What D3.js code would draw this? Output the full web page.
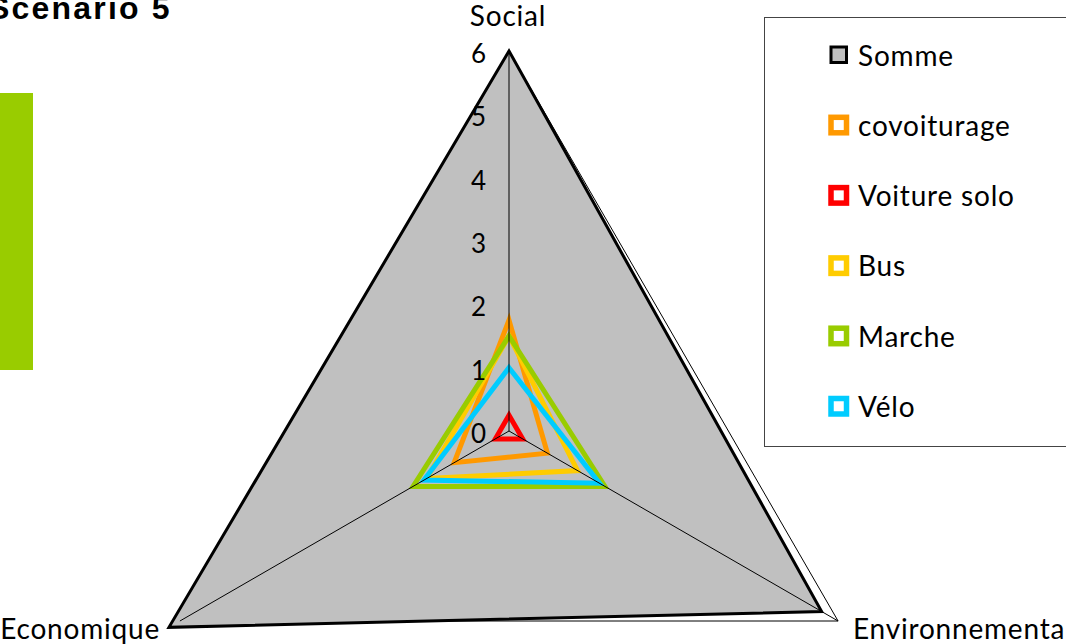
<!DOCTYPE html>
<html>
<head>
<meta charset="utf-8">
<script src="https://cdn.jsdelivr.net/npm/d3@7"></script>
<style>
  html, body { margin: 0; padding: 0; background: #fff; overflow: hidden; }
  svg { display: block; }
</style>
</head>
<body>
<svg id="chart" width="1066" height="644"></svg>
<script>
// Radar axes, clockwise from the top
const axisNames = ["Social", "Environnemental", "Economique"];
const tickValues = [0, 1, 2, 3, 4, 5, 6];

// Scores per axis: [Social, Environnemental, Economique]
const somme       = [6.0, 5.7, 6.2];
const covoiturage = [1.75, 0.7, 1.0];
const voitureSolo = [0.25, 0.25, 0.25];
const bus         = [1.5, 1.25, 1.5];
const marche      = [1.5, 1.75, 1.75];
const velo        = [1.0, 1.65, 1.55];

const seriesNames  = ["Somme", "covoiturage", "Voiture solo", "Bus", "Marche", "Vélo"];
const seriesValues = [somme, covoiturage, voitureSolo, bus, marche, velo];
const seriesColors = ["#000000", "#ff9900", "#ff0000", "#ffcc00", "#99cc00", "#00ccff"];

const svg = d3.select("#chart");
const cx = 509, cy = 431;
const FONT = "Lato, 'Open Sans', sans-serif";

const r = d3.scaleLinear().domain([0, 6]).range([0, 380]);
const angle = d3.scaleLinear().domain([0, axisNames.length]).range([0, 2 * Math.PI]);

const pt = (v, i) => [cx + r(v) * Math.sin(angle(i)), cy - r(v) * Math.cos(angle(i))];
const ring = d3.lineRadial()
  .angle((d, i) => angle(i))
  .radius(d => r(d))
  .curve(d3.curveLinearClosed);

const plot = svg.append("g").attr("transform", `translate(${cx},${cy})`);

// Concentric grid triangles (sit underneath the filled total)
plot.append("g").selectAll("path")
  .data(tickValues.filter(t => t > 0))
  .join("path")
  .attr("d", t => ring(axisNames.map(() => t)))
  .attr("fill", "none")
  .attr("stroke", "#000")
  .attr("stroke-width", 1);

// Series polygons: total filled grey, transport modes as outlines
plot.append("g").selectAll("path")
  .data(seriesValues)
  .join("path")
  .attr("d", d => ring(d))
  .attr("fill", (d, i) => i === 0 ? "#c0c0c0" : "none")
  .attr("stroke", (d, i) => seriesColors[i])
  .attr("stroke-width", (d, i) => i === 0 ? 3 : 5)
  .attr("stroke-linejoin", "miter")
  .attr("stroke-miterlimit", 10);

// Spokes
svg.append("g").selectAll("line")
  .data(axisNames)
  .join("line")
  .attr("x1", cx).attr("y1", cy)
  .attr("x2", (d, i) => pt(6, i)[0])
  .attr("y2", (d, i) => pt(6, i)[1])
  .attr("stroke", "#000")
  .attr("stroke-width", 1);

// Radial tick labels along the Social spoke
svg.append("g").selectAll("text")
  .data(tickValues)
  .join("text")
  .attr("x", cx - 23)
  .attr("y", d => pt(d, 0)[1] + 12)
  .attr("text-anchor", "end")
  .attr("font-family", FONT)
  .attr("font-size", 26)
  .attr("fill", "#000")
  .text(d => d);

// Axis names
const labelPos = [
  { x: cx - 1, y: 26, anchor: "middle" },
  { x: 853, y: 639, anchor: "start" },
  { x: 160, y: 639, anchor: "end" }
];
svg.append("g").selectAll("text")
  .data(axisNames)
  .join("text")
  .attr("x", (d, i) => labelPos[i].x)
  .attr("y", (d, i) => labelPos[i].y)
  .attr("text-anchor", (d, i) => labelPos[i].anchor)
  .attr("font-family", FONT)
  .attr("font-size", 28)
  .attr("letter-spacing", 0.8)
  .attr("fill", "#000")
  .text(d => d);

// Legend
const legend = svg.append("g");
legend.append("rect")
  .attr("x", 764.5).attr("y", 17.5)
  .attr("width", 400).attr("height", 429)
  .attr("fill", "#fff")
  .attr("stroke", "#444")
  .attr("stroke-width", 1);

const rowY = d3.scaleLinear().domain([0, 1]).range([54.5, 124.8]);
const items = legend.selectAll("g.item")
  .data(seriesNames)
  .join("g")
  .attr("class", "item")
  .attr("transform", (d, i) => `translate(0,${rowY(i)})`);

items.append("rect")
  .attr("x", 831)
  .attr("y", -7.5)
  .attr("width", 15.5).attr("height", 15.5)
  .attr("fill", (d, i) => i === 0 ? "#c0c0c0" : "#fff")
  .attr("stroke", (d, i) => seriesColors[i])
  .attr("stroke-width", (d, i) => i === 0 ? 3 : 5.5);

items.append("text")
  .attr("x", 858)
  .attr("y", 11)
  .attr("font-family", FONT)
  .attr("font-size", 28)
  .attr("letter-spacing", 0.8)
  .attr("fill", "#000")
  .text(d => d);

// Scenario title and side band
svg.append("text")
  .attr("x", -12)
  .attr("y", 19)
  .attr("font-family", "'Liberation Sans', Arial, sans-serif")
  .attr("font-weight", "bold")
  .attr("font-size", 32)
  .attr("letter-spacing", 2.2)
  .attr("fill", "#000")
  .text("Scenario 5");

svg.append("rect")
  .attr("x", 0).attr("y", 93)
  .attr("width", 33).attr("height", 277)
  .attr("fill", "#99cc00");
</script>
</body>
</html>
